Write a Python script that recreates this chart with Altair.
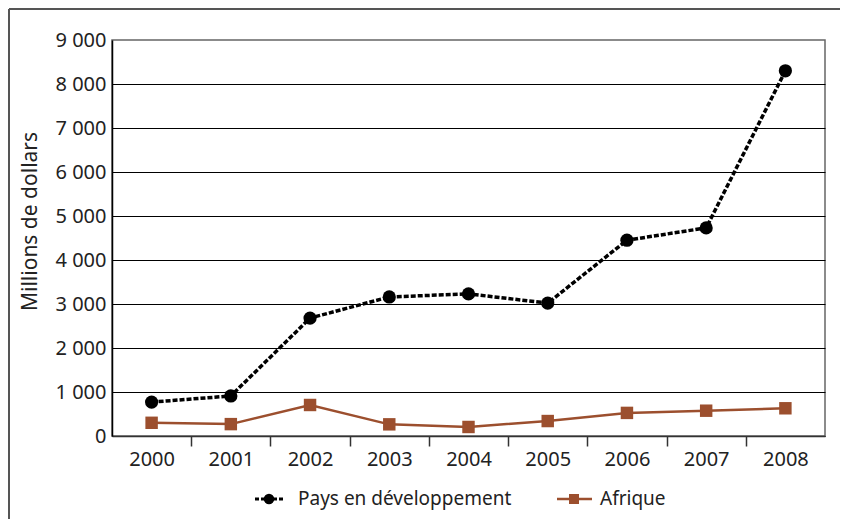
import altair as alt
import pandas as pd

years = [2000, 2001, 2002, 2003, 2004, 2005, 2006, 2007, 2008]
pays = [770, 910, 2680, 3160, 3230, 3020, 4450, 4730, 8300]
afrique = [300, 270, 705, 265, 205, 340, 525, 575, 630]
series = ["Pays en développement", "Afrique"]
colors = ["#000000", "#9C4F2E"]
y_ticks = [0, 1000, 2000, 3000, 4000, 5000, 6000, 7000, 8000, 9000]

df = pd.DataFrame({
    "year": years * 2,
    "value": pays + afrique,
    "series": [series[0]] * len(years) + [series[1]] * len(years),
})

FONT = "Noto Sans"
W, H = 713, 396
PAD = {"left": 104, "top": 32, "right": 15, "bottom": 83}

x_values = []
for y in years:
    x_values.append(y)
    if y != years[-1]:
        x_values.append(y + 0.5)

x_enc = alt.X(
    "year:Q",
    scale=alt.Scale(domain=[years[0] - 0.5, years[-1] + 0.5], nice=False, zero=False),
    axis=alt.Axis(
        values=x_values,
        labelExpr="datum.value % 1 == 0 ? '' + datum.value : ''",
        tickOpacity={"condition": {"test": "datum.value % 1 != 0", "value": 1}, "value": 0},
        tickColor="#333",
        tickSize=10,
        tickWidth=1.5,
        labelPadding=3,
        labelOverlap=False,
        labelFlush=False,
        domainColor="#333",
        domainWidth=1.5,
        grid=False,
        title=None,
    ),
)
y_enc = alt.Y(
    "value:Q",
    scale=alt.Scale(domain=[0, 9000], nice=False),
    axis=alt.Axis(
        values=y_ticks,
        labelExpr="replace(format(datum.value, ','), ',', ' ')",
        grid=True,
        gridColor="#000",
        gridWidth=1,
        gridOpacity={"condition": {"test": "datum.value == 9000", "value": 0}, "value": 1},
        ticks=False,
        labelPadding=6,
        domainColor="#000",
        domainWidth=1.5,
        title="Millions de dollars",
        titleFontWeight="normal",
        titleFontSize=21,
        titleAngle=-90,
        titleX=-82,
        titleY=181,
        titleAlign="center",
        titleBaseline="middle",
    ),
)

base = alt.Chart(df)
pays_data = base.transform_filter(alt.datum.series == series[0])
afr_data = base.transform_filter(alt.datum.series == series[1])

afr_line = afr_data.mark_line(color=colors[1], strokeWidth=2.5).encode(x=x_enc, y=y_enc)
afr_pts = afr_data.mark_point(shape="square", filled=True, color=colors[1], size=155, opacity=1).encode(x=x_enc, y=y_enc)
pays_line = pays_data.mark_line(color=colors[0], strokeWidth=3.5, strokeDash=[5, 2]).encode(x=x_enc, y=y_enc)
pays_pts = pays_data.mark_point(shape="circle", filled=True, color=colors[0], size=175, opacity=1).encode(x=x_enc, y=y_enc)

# manual legend
LY = 459
leg_layers = []
leg_specs = [
    (0, 143, 171, 157, 186, "circle", [4, 2], 3, 110),
    (1, 445, 480, 462, 488, "square", [1, 0], 2.5, 100),
]
for i, xa, xb, xm, xt, shp, dash, sw, sz in leg_specs:
    d = alt.Chart(pd.DataFrame({"s": [series[i]]}))
    leg_layers.append(d.mark_rule(color=colors[i], strokeWidth=sw, strokeDash=dash).encode(
        x=alt.value(xa), x2=alt.value(xb), y=alt.value(LY)))
    leg_layers.append(d.mark_point(shape=shp, filled=True, color=colors[i], size=sz, opacity=1).encode(
        x=alt.value(xm), y=alt.value(LY)))
    leg_layers.append(d.mark_text(align="left", baseline="middle", font=FONT, fontSize=19, color="#222").encode(
        x=alt.value(xt), y=alt.value(LY), text="s:N"))

# frame border
fd = alt.Chart(pd.DataFrame({"a": [0]}))
border_left = fd.mark_rule(color="#555", strokeWidth=2).encode(
    x=alt.value(-PAD["left"] + 1), y=alt.value(-PAD["top"] + 1), y2=alt.value(H + PAD["bottom"]))
border_top = fd.mark_rule(color="#555", strokeWidth=2).encode(
    x=alt.value(-PAD["left"] + 1), x2=alt.value(W + PAD["right"]), y=alt.value(-PAD["top"] + 1))

chart = alt.layer(
    afr_line, afr_pts, pays_line, pays_pts, *leg_layers, border_left, border_top
).properties(
    width=W, height=H,
    autosize=alt.AutoSizeParams(type="none"),
    padding=PAD,
    background="white",
).configure_view(
    stroke="#666", strokeWidth=1.5,
).configure_axis(
    labelFont=FONT, titleFont=FONT, labelFontSize=20, titleFontSize=21,
    labelColor="#222", titleColor="#222",
)

chart.save("out.html", embed_options={"renderer": "svg", "actions": False})
